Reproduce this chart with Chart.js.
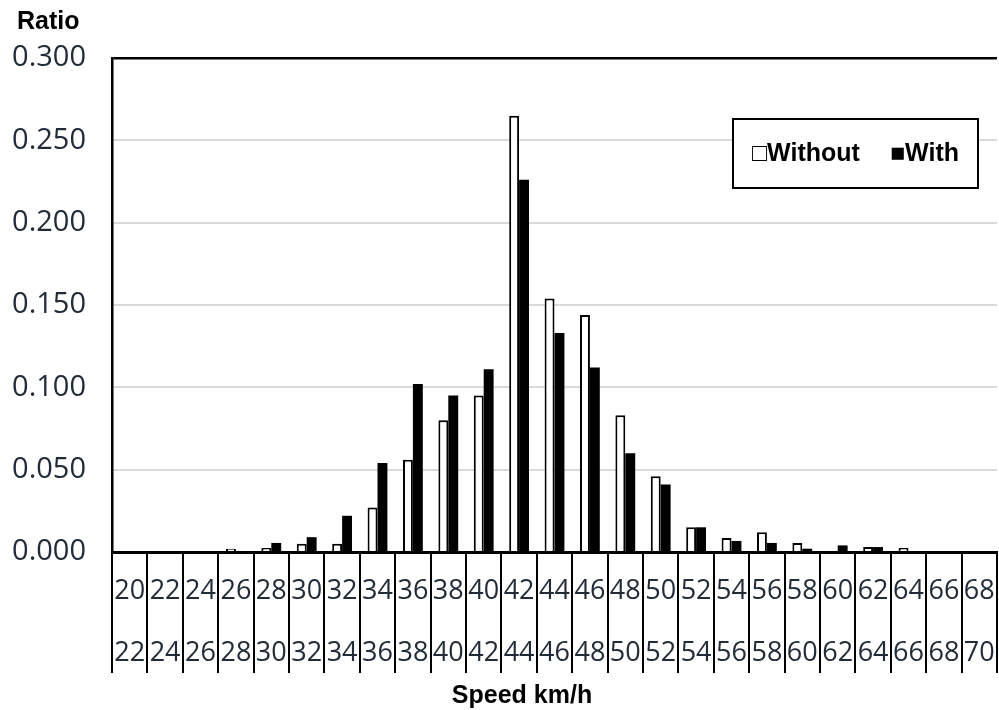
<!DOCTYPE html>
<html lang="en">
<head>
  <meta charset="UTF-8">
  <title>Speed ratio - Without / With</title>
  <script src="https://cdn.jsdelivr.net/npm/chart.js"></script>
  <style>
    html, body { margin: 0; padding: 0; background: #fff; }
    #speedChart { display: block; }
  </style>
</head>
<body>
  <canvas id="speedChart" width="999" height="710"></canvas>

  <script>
    // speed classes (from - to, km/h)
    const speedFrom = ['20','22','24','26','28','30','32','34','36','38','40','42','44','46','48','50','52','54','56','58','60','62','64','66','68'];
    const speedTo   = ['22','24','26','28','30','32','34','36','38','40','42','44','46','48','50','52','54','56','58','60','62','64','66','68','70'];

    const ratioWithout = [0, 0, 0, 0.002, 0.0025, 0.005, 0.005, 0.027, 0.056, 0.080, 0.095, 0.265, 0.154, 0.144, 0.083, 0.046, 0.015, 0.0085, 0.012, 0.0055, 0, 0.003, 0.0025, 0, 0];
    const ratioWith    = [0, 0, 0, 0, 0.0055, 0.009, 0.022, 0.054, 0.102, 0.095, 0.111, 0.226, 0.133, 0.112, 0.060, 0.041, 0.015, 0.0067, 0.0055, 0.002, 0.004, 0.003, 0, 0, 0];

    const yTicks = [0, 0.05, 0.10, 0.15, 0.20, 0.25, 0.30];

    const labels = speedFrom.map((f, i) => [f, speedTo[i]]);
    const tickColor = '#222b38';

    // texts drawn by hand: axis names + the boxed legend
    const extraText = {
      id: 'extraText',
      afterDraw(chart) {
        const ctx = chart.ctx;
        ctx.save();
        ctx.fillStyle = '#000';
        ctx.font = 'bold 25px "Liberation Sans", Arial, sans-serif';
        ctx.textBaseline = 'middle';
        ctx.textAlign = 'left';
        ctx.fillText('Ratio', 17, 22);
        ctx.textAlign = 'center';
        ctx.fillText('Speed km/h', 522, 696);

        // legend box
        ctx.fillStyle = '#fff';
        ctx.fillRect(733, 119, 245, 69);
        ctx.strokeStyle = '#000';
        ctx.lineWidth = 2;
        ctx.strokeRect(733, 119, 245, 69);
        ctx.fillStyle = '#000';
        ctx.textAlign = 'left';
        ctx.font = 'bold 25px "Liberation Sans", Arial, sans-serif';
        ctx.fillText('\u25A1Without', 752, 154);
        ctx.fillText('\u25A0With', 890, 154);
        ctx.restore();
      }
    };

    const ctx = document.getElementById('speedChart').getContext('2d');
    new Chart(ctx, {
      type: 'bar',
      data: {
        labels: labels,
        datasets: [
          {
            label: 'Without',
            data: ratioWithout,
            backgroundColor: '#ffffff',
            borderColor: '#000000',
            borderWidth: 2,
            borderSkipped: 'bottom',
            categoryPercentage: 0.56,
            barPercentage: 1.0
          },
          {
            label: 'With',
            data: ratioWith,
            backgroundColor: '#000000',
            borderColor: '#000000',
            borderWidth: 0,
            categoryPercentage: 0.56,
            barPercentage: 1.0
          }
        ]
      },
      options: {
        responsive: false,
        animation: false,
        layout: { padding: { left: 10, top: 58, right: 2, bottom: 0 } },
        scales: {
          x: {
            offset: true,
            grid: {
              offset: true,
              drawOnChartArea: false,
              drawTicks: true,
              tickLength: 121,
              color: '#000',
              lineWidth: 2
            },
            border: { display: true, color: '#000', width: 3 },
            ticks: {
              color: tickColor,
              font: { family: '"Open Sans", sans-serif', size: 27, lineHeight: 2.3 },
              padding: -113,
              maxRotation: 0,
              autoSkip: false
            },
            afterFit(scale) { scale.height = 158; }
          },
          y: {
            min: 0,
            max: 0.3,
            afterBuildTicks(scale) { scale.ticks = yTicks.map(v => ({ value: v })); },
            grid: {
              drawTicks: false,
              color: c => (c.tick && c.tick.value === 0.3 ? '#000' : '#d9d9d9'),
              lineWidth: c => (c.tick && c.tick.value === 0.3 ? 2.5 : 2)
            },
            border: { display: true, color: '#000', width: 2.5 },
            ticks: {
              color: tickColor,
              font: { family: '"Open Sans", sans-serif', size: 29 },
              padding: 26,
              callback: v => Number(v).toFixed(3)
            },
            afterFit(scale) { scale.width = 102; }
          }
        },
        plugins: {
          legend: { display: false },
          tooltip: { enabled: false }
        }
      },
      plugins: [extraText]
    });
  </script>
</body>
</html>
